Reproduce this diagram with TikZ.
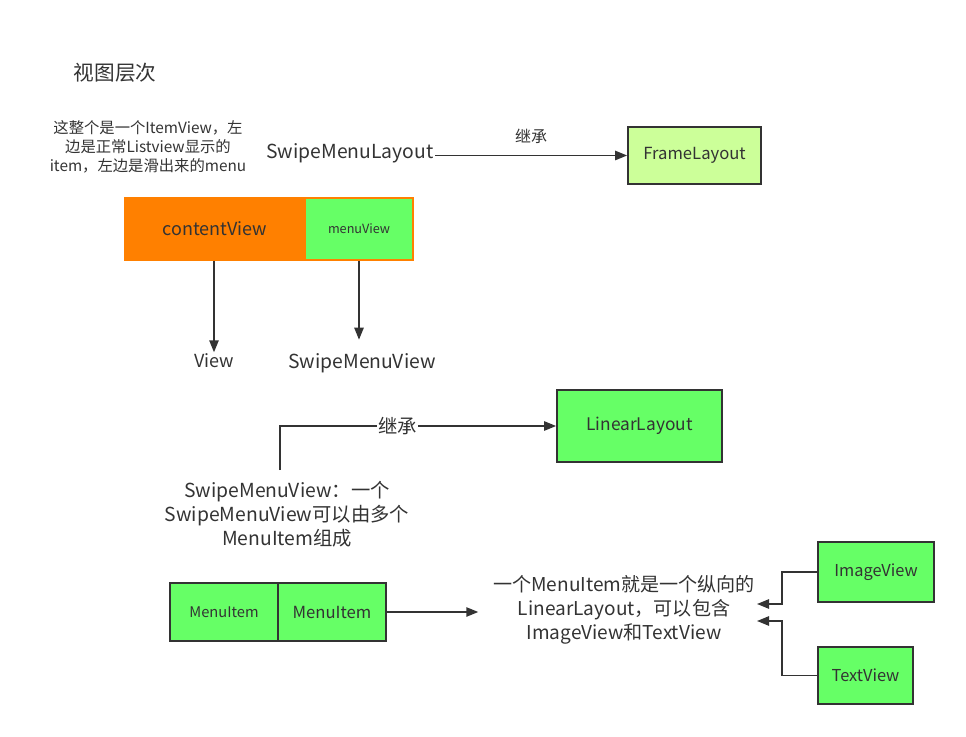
\documentclass[tikz,border=0pt]{standalone}
\usepackage{fontspec}
\setmainfont{Noto Sans CJK SC}
\usetikzlibrary{arrows.meta}

\definecolor{orangefill}{HTML}{FF8000}
\definecolor{greenfill}{HTML}{66FF66}
\definecolor{lightgreen}{HTML}{CCFF99}
\definecolor{inkcol}{HTML}{333333}

\tikzset{
    box/.style={draw=inkcol, line width=1.3pt, fill=greenfill, inner sep=0pt, text=inkcol},
    label/.style={inner sep=1pt, text=inkcol, align=center},
    arrow/.style={draw=inkcol, line width=1.2pt, -{Triangle[length=9pt, width=7pt]}},
}

\begin{document}
\begin{tikzpicture}[x=0.75pt, y=-0.75pt]
    \useasboundingbox (0,0) rectangle (966,737);

    % title and notes
    \node[label, font=\fontsize{15.5}{18}\selectfont] (title) at (115,73) {视图层次};
    \node[label, font=\fontsize{11.5}{14}\selectfont] (note) at (148,147)
        {这整个是一个ItemView，左\\边是正常Listview显示的\\item，左边是滑出来的menu};

    % SwipeMenuLayout
    \node[label, font=\fontsize{14.5}{17}\selectfont] (sml) at (350,153) {SwipeMenuLayout};
    \node[box, fill=lightgreen, minimum width=99.75pt, minimum height=42.75pt,
        font=\fontsize{12.5}{15}\selectfont] (frame) at (694.5,155.5) {FrameLayout};
    \draw[arrow] (sml.east |- frame.west) -- (frame.west)
        node[midway, above=7pt, label, font=\fontsize{12}{14}\selectfont] (inh1) {继承};

    % item view
    \node[box, draw=orangefill, fill=orangefill, minimum width=135pt, minimum height=46.5pt,
        font=\fontsize{13.5}{16}\selectfont] (content) at (215,229) {contentView};
    \node[box, draw=orangefill, minimum width=81pt, minimum height=46.5pt,
        font=\fontsize{9.5}{12}\selectfont] (menu) at (359,229) {menuView};
    \node[label, font=\fontsize{13.5}{16}\selectfont] (view) at (214,361) {View};
    \node[label, font=\fontsize{14.5}{17}\selectfont] (smv) at (362,363) {SwipeMenuView};
    \draw[arrow] (view |- content.south) -- (view.north);
    \draw[arrow, shorten >=9pt] (menu.south) -- (menu.south |- smv.north);

    % SwipeMenuView
    \node[box, minimum width=123.75pt, minimum height=54pt,
        font=\fontsize{13}{16}\selectfont] (linear) at (639.5,426) {LinearLayout};
    \node[label, font=\fontsize{14.5}{18}\selectfont] (smvnote) at (287,514)
        {SwipeMenuView：一个\\SwipeMenuView可以由多个\\MenuItem组成};
    \draw[arrow] ([xshift=-5.25pt, yshift=7pt]smvnote.north) |- (linear.west)
        node[pos=0.713, label, fill=white, font=\fontsize{14.5}{17}\selectfont] (inh2) {继承};

    % MenuItem
    \node[box, minimum width=81pt, minimum height=43.5pt,
        font=\fontsize{11}{14}\selectfont] (itemA) at (224,612) {MenuItem};
    \node[box, minimum width=81pt, minimum height=43.5pt,
        font=\fontsize{12.5}{15}\selectfont] (itemB) at (332,612) {MenuItem};
    \node[label, font=\fontsize{14.3}{18}\selectfont] (contains) at (624,610)
        {一个MenuItem就是一个纵向的\\LinearLayout，可以包含\\ImageView和TextView};
    \draw[arrow, shorten >=10pt] (itemB.east) -- (contains.west |- itemB.east);

    % ImageView and TextView
    \node[box, minimum width=87pt, minimum height=45pt,
        font=\fontsize{12.3}{15}\selectfont] (image) at (876,572) {ImageView};
    \node[box, minimum width=71.25pt, minimum height=42.75pt,
        font=\fontsize{12.3}{15}\selectfont] (text) at (865.5,675.5) {TextView};
    \coordinate (inA) at (757,604);
    \coordinate (inB) at (757,621);
    \draw[arrow] (image.west) -- ++(-35,0) |- (inA);
    \draw[arrow] (text.west) -- ++(-35,0) |- (inB);
\end{tikzpicture}
\end{document}
